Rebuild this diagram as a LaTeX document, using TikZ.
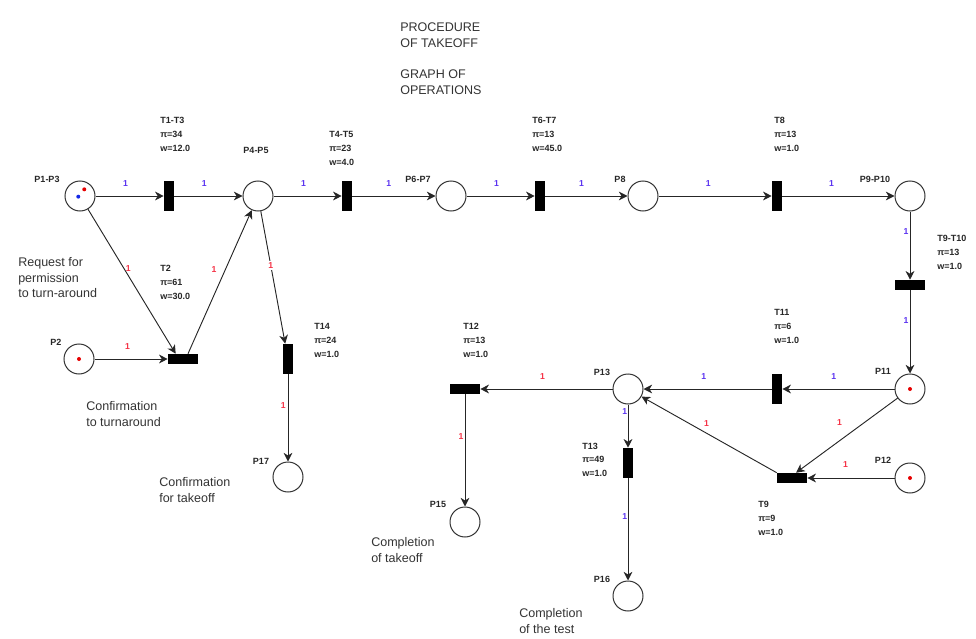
\documentclass[tikz,border=0pt]{standalone}
\usepackage{fontspec}
\setmainfont{Liberation Sans}
\usepackage{xcolor}
\usetikzlibrary{arrows.meta}
\definecolor{wblue}{RGB}{90,50,240}
\definecolor{wred}{RGB}{245,50,70}
\definecolor{tokred}{RGB}{230,0,0}
\definecolor{tokblue}{RGB}{20,40,230}

\begin{document}
\begin{tikzpicture}[x=0.75pt,y=-0.75pt,
		place/.style={circle,draw=black!80,line width=0.75pt,minimum size=22.5pt,inner sep=0pt},
		vbar/.style={rectangle,fill=black,minimum width=7.5pt,minimum height=22.5pt,inner sep=0pt},
		hbar/.style={vbar,minimum width=22.5pt,minimum height=7.5pt},
		arc/.style={draw=black!85,line width=0.7pt,-{Stealth[length=6.5pt,width=6.5pt,inset=2pt]}},
		pname/.style={font=\bfseries\fontsize{6.75}{8}\selectfont,text=black!85,inner sep=0pt},
		tinfo/.style={pname,font=\bfseries\fontsize{6.75}{10.4}\selectfont,align=left,anchor=north west},
		note/.style={font=\fontsize{9.4}{11.6}\selectfont,text=black!80,align=left,anchor=north west,inner sep=0pt},
		wb/.style={font=\bfseries\fontsize{6.5}{7}\selectfont,text=wblue,inner sep=1pt},
		wr/.style={wb,text=wred}]
	\useasboundingbox (0,0) rectangle (976,639);
	\foreach \n/\x/\y in {p1p3/80/196, p4p5/258/196, p6p7/451/196, p8/643/196, p9p10/910/196,
		p2/79/359, p17/288/477, p11/910/389, p12/910/478, p13/628/389, p15/465/522, p16/628/596}
		\node[place] (\n) at (\x,\y) {};
	\foreach \n/\x/\y in {t1t3/169/196, t4t5/347/196, t6t7/540/196, t8/777/196, t14/288/359, t11/777/389, t13/628/463}
		\node[vbar] (\n) at (\x,\y) {};
	\foreach \n/\x/\y in {t2/183/359, t9t10/910/285, t9/792/478, t12/465/389}
		\node[hbar] (\n) at (\x,\y) {};
	\foreach \n/\x/\y/\t in {lp1p3/47/179/P1-P3, lp4p5/256/150/P4-P5, lp6p7/418/179/P6-P7, lp8/620/179/P8,
		lp9p10/875/179/P9-P10, lp2/56/342/P2, lp17/261/461/P17, lp15/438/504/P15, lp16/602/579/P16,
		lp13/602/372/P13, lp11/883/371/P11, lp12/883/460/P12}
		\node[pname] (\n) at (\x,\y) {\t};
	\foreach \n/\x/\y/\t/\pv/\wv in {i1t3/160/117/T1-T3/34/12.0, i2/160/265/T2/61/30.0, i4t5/329/131/T4-T5/23/4.0,
		i6t7/532/117/T6-T7/13/45.0, i8/774/117/T8/13/1.0, i9t10/937/235/T9-T10/13/1.0, i11/774/309.5/T11/6/1.0,
		i12/463/323/T12/13/1.0, i13/582/442.5/T13/49/1.0, i14/314/323/T14/24/1.0, i9/758/501/T9/9/1.0}
		\node[tinfo] (\n) at (\x,\y) {\t\\π=\pv\\w=\wv};
	\node[note,font=\fontsize{9.4}{12}\selectfont] (title) at (400,22.5) {PROCEDURE\\OF TAKEOFF\\[11.25pt]GRAPH OF\\OPERATIONS};
	\node[note] (request) at (18,257.5) {Request for\\permission\\to turn-around};
	\node[note] (confturn) at (86,401.5) {Confirmation\\to turnaround};
	\node[note] (conftake) at (159,477.5) {Confirmation\\for takeoff};
	\node[note] (comptake) at (371,537.5) {Completion\\of takeoff};
	\node[note] (comptest) at (519,608.5) {Completion\\of the test};
	\foreach \a/\b in {p1p3/t1t3, t1t3/p4p5, p4p5/t4t5, t4t5/p6p7, p6p7/t6t7, t6t7/p8, p8/t8, t8/p9p10}
		\draw[arc] (\a) -- (\b) node[wb,pos=.44,above=5.7pt]{1};
	\draw[arc] (p1p3) -- ([xshift=-5.5pt]t2.north) node[wr,pos=.41,right=0pt]{1};
	\draw[arc] ([xshift=3.75pt]t2.north) -- (p4p5) node[wr,pos=.59,left=5.5pt]{1};
	\draw[arc] (p2) -- (t2) node[wr,pos=.45,above=5.7pt]{1};
	\draw[arc] (p4p5) -- (t14) node[wr,pos=.41,fill=white]{1};
	\draw[arc] (t14) -- (p17) node[wr,pos=.36,xshift=-3.5pt]{1};
	\draw[arc] (p9p10) -- (t9t10) node[wb,pos=.3,xshift=-3pt]{1};
	\draw[arc] (t9t10) -- (p11) node[wb,pos=.36,xshift=-3pt]{1};
	\draw[arc] (p11) -- (t11) node[wb,pos=.54,above=5.7pt]{1};
	\draw[arc] (t11) -- (p13) node[wb,pos=.53,above=5.7pt]{1};
	\draw[arc] (p11) -- ([xshift=3pt]t9.north) node[wr,pos=.32,left=16pt]{1};
	\draw[arc] (p12) -- (t9) node[wr,pos=.56,above=6.2pt]{1};
	\draw[arc] (t9.north west) -- (p13) node[wr,pos=.52,above=3.4pt]{1};
	\draw[arc] (p13) -- (t12) node[wr,pos=.53,above=5.7pt]{1};
	\draw[arc] (t12) -- (p15) node[wr,pos=.38,xshift=-3pt]{1};
	\draw[arc] (p13) -- (t13) node[wb,pos=.17,xshift=-2.5pt]{1};
	\draw[arc] (t13) -- (p16) node[wb,pos=.37,xshift=-2.5pt]{1};
	\fill[tokred] ([shift={(3.2pt,5pt)}]p1p3.center) circle (1.5pt);
	\fill[tokblue] ([shift={(-1.3pt,-0.5pt)}]p1p3.center) circle (1.5pt);
	\foreach \n in {p2,p11,p12}
		\fill[tokred] (\n.center) circle (1.5pt);
\end{tikzpicture}
\end{document}
